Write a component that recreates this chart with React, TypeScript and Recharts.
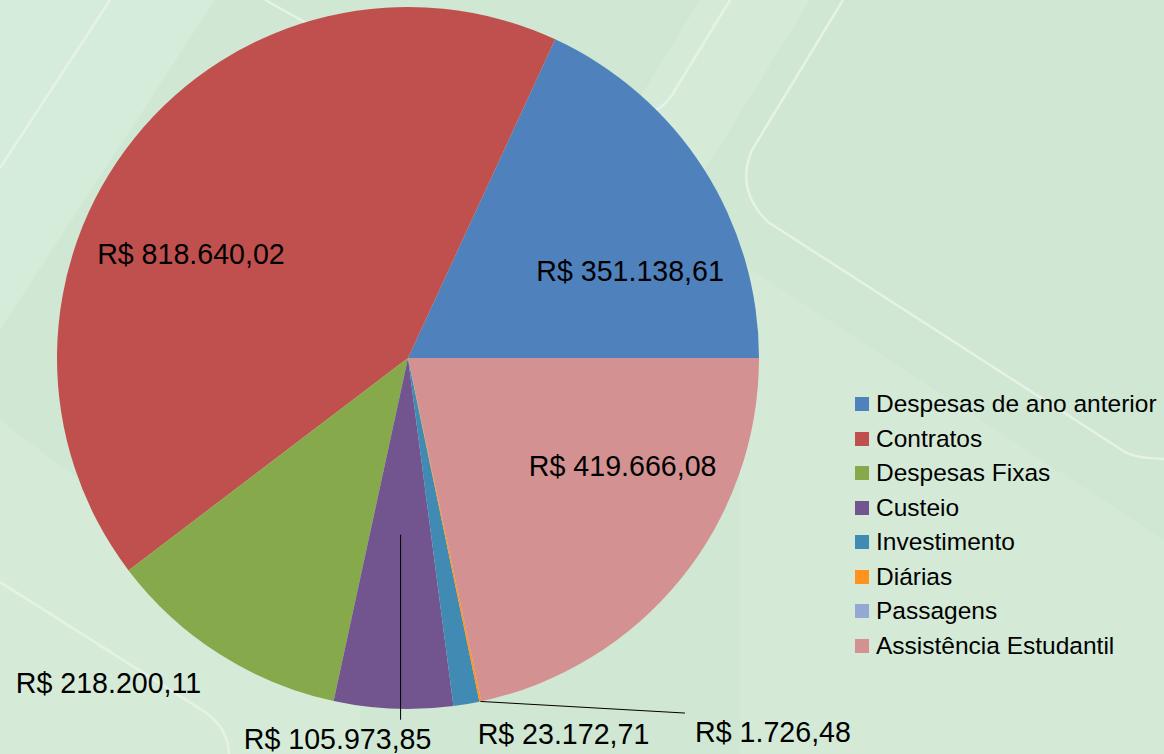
import React from "react";
import { PieChart, Pie, Cell, Legend } from "recharts";

const categories = [
  "Despesas de ano anterior",
  "Contratos",
  "Despesas Fixas",
  "Custeio",
  "Investimento",
  "Diárias",
  "Passagens",
  "Assistência Estudantil",
];
const values = [351138.61, 818640.02, 218200.11, 105973.85, 23172.71, 1726.48, 0, 419666.08];
const colors = ["#4F81BD", "#C0504D", "#86AA4B", "#72558F", "#418AB3", "#FF931E", "#95A8D3", "#D39192"];

const data = categories.map((name, i) => ({ name, value: values[i] }));

// label placement: anchor at radius fraction f on the slice's mid angle, then offset
const labelPlacement: ({ f: number; dx: number; dy: number; line?: [number, number] } | null)[] = [
  { f: 0.684, dx: 19.8, dy: 42.3 },
  { f: 0.684, dx: -29.9, dy: 46.3 },
  { f: 1, dx: -110.9, dy: 29 },
  { f: 0.504, dx: -63, dy: 204, line: [0, 185] },
  { f: 1, dx: 97, dy: 30 },
  { f: 1, dx: 292.6, dy: 30.6, line: [204.6, 11.6] },
  null,
  { f: 0.684, dx: 28, dy: -42.9 },
];

const FONT = "'Liberation Sans', Arial, sans-serif";
const RAD = Math.PI / 180;

function formatBRL(v: number) {
  const [int, dec] = v.toFixed(2).split(".");
  const grouped = int.replace(/\B(?=(\d{3})+(?!\d))/g, ".");
  return "R$ " + grouped + "," + dec;
}

function renderLabel(props: any) {
  const { cx, cy, midAngle, outerRadius, index, value } = props;
  const s = labelPlacement[index];
  if (!s) return null;
  const ax = cx + outerRadius * s.f * Math.cos(-midAngle * RAD);
  const ay = cy + outerRadius * s.f * Math.sin(-midAngle * RAD);
  return (
    <g key={"lbl" + index}>
      {s.line && (
        <line x1={ax} y1={ay} x2={ax + s.line[0]} y2={ay + s.line[1]} stroke="#000" strokeWidth={1} />
      )}
      <text
        x={ax + s.dx}
        y={ay + s.dy}
        textAnchor="middle"
        dominantBaseline="central"
        fontSize={28.6}
        fontFamily={FONT}
        fill="#000"
      >
        {formatBRL(value)}
      </text>
    </g>
  );
}

function LegendBox() {
  return (
    <ul style={{ listStyle: "none", margin: 0, padding: 0, fontFamily: FONT, fontSize: 24.5, color: "#000" }}>
      {categories.map((c, i) => (
        <li key={c} style={{ display: "flex", alignItems: "center", height: 34.5, whiteSpace: "nowrap" }}>
          <span style={{ width: 14, height: 14, background: colors[i], marginRight: 7, display: "inline-block" }} />
          {c}
        </li>
      ))}
    </ul>
  );
}

function Background() {
  const line = { fill: "none", stroke: "#E6F2E7", strokeWidth: 2.5 };
  return (
    <svg width={1164} height={754} style={{ position: "absolute", left: 0, top: 0 }}>
      <rect width={1164} height={754} fill="#CFE7D3" />
      <polygon points="0,0 215,0 0,330" fill="#D6ECDA" />
      <polygon points="700,0 810,0 700,178 590,178" fill="#D5EBD8" />
      <polygon points="740,262 1164,540 1164,754 740,754" fill="#D4EAD7" />
      <polygon points="0,420 360,690 360,754 0,754" fill="#D5EBD8" />
      <path d="M110,0 L0,168" {...line} />
      <path d="M265,0 L310,25" {...line} />
      <path d="M730,0 L672,95 Q665,106 652,112" {...line} />
      <path d="M843,0 L752,150 Q735,190 768,222 L1125,452 Q1135,458 1164,459" {...line} />
      <path d="M0,582 L205,712 Q228,728 229,754" {...line} />
    </svg>
  );
}

export default function App() {
  return (
    <div style={{ position: "absolute", left: 0, top: 0, width: 1164, height: 754, overflow: "hidden" }}>
      <Background />
      <div style={{ position: "absolute", left: 0, top: 0 }}>
        <PieChart width={1164} height={754} margin={{ top: 0, right: 0, bottom: 0, left: 0 }}>
          <Pie
            data={data}
            dataKey="value"
            nameKey="name"
            cx={408}
            cy={358}
            outerRadius={351}
            startAngle={0}
            endAngle={360}
            stroke="none"
            label={renderLabel}
            labelLine={false}
            isAnimationActive={false}
          >
            {data.map((d, i) => (
              <Cell key={d.name} fill={colors[i]} />
            ))}
          </Pie>
          <Legend
            layout="vertical"
            align="right"
            verticalAlign="top"
            content={() => <LegendBox />}
            wrapperStyle={{ left: 855, top: 387, width: 309 }}
          />
        </PieChart>
      </div>
    </div>
  );
}
